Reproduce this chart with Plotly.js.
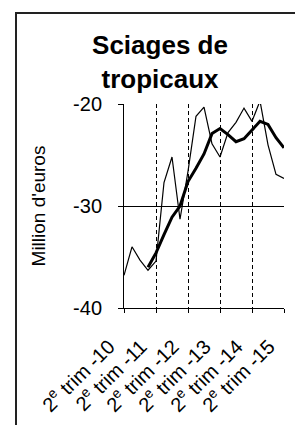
<!DOCTYPE html>
<html>
<head>
<meta charset="utf-8">
<script src="https://cdn.plot.ly/plotly-3.0.1.min.js"></script>
<style>
  html, body { margin: 0; padding: 0; background: #fff; overflow: hidden; }
  #frame { position: absolute; left: 15px; top: 12px; width: 400px; height: 500px; border: 2px solid #222; box-sizing: border-box; }
  #chart { position: absolute; left: 0; top: 0; width: 295px; height: 425px; }
</style>
</head>
<body>
<div id="frame"></div>
<div id="chart"></div>
<script>
// Quarterly categories, 2nd quarter 2010 to 2nd quarter 2015
const quarters = ['2010T2','2010T3','2010T4','2011T1','2011T2','2011T3','2011T4','2012T1','2012T2','2012T3','2012T4',
                  '2013T1','2013T2','2013T3','2013T4','2014T1','2014T2','2014T3','2014T4','2015T1','2015T2'];
// Quarterly values (thin line), million euros
const quarterly = [-36.8,-34.0,-35.3,-36.3,-35.4,-27.7,-25.2,-31.3,-26.6,-21.2,-20.3,
                   -23.9,-25.2,-22.8,-21.8,-20.4,-21.7,-19.7,-24.0,-26.9,-27.3];
// Smoothed values (thick line), million euros
const smoothed = [null,null,null,-36.0,-34.6,-32.8,-31.1,-30.0,-27.6,-26.3,-24.9,
                  -22.9,-22.4,-23.0,-23.7,-23.4,-22.6,-21.7,-22.0,-23.3,-24.3];
// Axis labels
const xTickVals = ['2010T2','2011T2','2012T2','2013T2','2014T2','2015T2'];
const xTickText = ['2<sup>e</sup> trim -10','2<sup>e</sup> trim -11','2<sup>e</sup> trim -12',
                   '2<sup>e</sup> trim -13','2<sup>e</sup> trim -14','2<sup>e</sup> trim -15'];
const yTickVals = [-40,-30,-20];
const yTickText = ['-40','-30','-20'];
const chartTitle = 'Sciages de<br>tropicaux';
const yTitle = "Million d'euros";

const FONT = 'Liberation Sans, Arial, sans-serif';

const traces = [
  { x: quarters, y: quarterly, type: 'scatter', mode: 'lines',
    line: { color: '#000', width: 1.2 }, hoverinfo: 'skip', showlegend: false },
  { x: quarters, y: smoothed, type: 'scatter', mode: 'lines',
    line: { color: '#000', width: 3 }, hoverinfo: 'skip', showlegend: false }
];

const layout = {
  width: 295, height: 425,
  margin: { l: 124, r: 11, t: 104, b: 117, pad: 0 },
  paper_bgcolor: 'rgba(0,0,0,0)', plot_bgcolor: 'rgba(0,0,0,0)',
  showlegend: false,
  font: { family: FONT, color: '#000' },
  title: {
    text: chartTitle,
    font: { family: FONT, size: 26, weight: 'bold', color: '#000' },
    x: 160 / 295, xref: 'container', xanchor: 'center',
    y: 1 - 54 / 425, yref: 'container', yanchor: 'top'
  },
  xaxis: {
    type: 'category', range: [0, 20],
    tickvals: xTickVals, ticktext: xTickText, tickangle: -45,
    tickfont: { family: FONT, size: 20, color: '#000' },
    ticklabelstandoff: 14, ticklabelshift: -15,
    showline: true, linecolor: '#000', linewidth: 1,
    ticks: 'outside', ticklen: 4, tickcolor: '#000', tickwidth: 1,
    showgrid: true, gridcolor: '#000', gridwidth: 1, griddash: '4px,3px',
    zeroline: false, automargin: false, fixedrange: true
  },
  yaxis: {
    range: [-40, -20], tickvals: yTickVals, ticktext: yTickText,
    tickfont: { family: FONT, size: 20, color: '#000' },
    showline: true, linecolor: '#000', linewidth: 1,
    ticks: 'outside', ticklen: 5, tickcolor: '#000', tickwidth: 1,
    ticklabelstandoff: 12,
    showgrid: true, gridcolor: '#000', gridwidth: 1,
    zeroline: false, automargin: false, fixedrange: true,
    title: { text: yTitle, font: { family: FONT, size: 19, color: '#000' }, standoff: 22 }
  }
};

Plotly.newPlot('chart', traces, layout, { staticPlot: true, displayModeBar: false });
</script>
</body>
</html>
